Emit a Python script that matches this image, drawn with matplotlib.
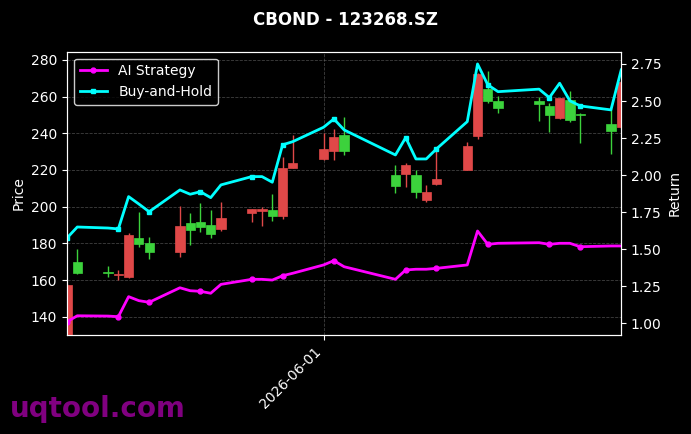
import numpy as np
import pandas as pd
import matplotlib
matplotlib.use("Agg")
import matplotlib.pyplot as plt
import matplotlib.dates as mdates

# trading days shown on the chart
dates = pd.to_datetime([
    "2026-05-07", "2026-05-08", "2026-05-11", "2026-05-12", "2026-05-13", "2026-05-14", "2026-05-15",
    "2026-05-18", "2026-05-19", "2026-05-20", "2026-05-21", "2026-05-22",
    "2026-05-25", "2026-05-26", "2026-05-27", "2026-05-28", "2026-05-29",
    "2026-06-01", "2026-06-02", "2026-06-03",
    "2026-06-08", "2026-06-09", "2026-06-10", "2026-06-11", "2026-06-12",
    "2026-06-15", "2026-06-16", "2026-06-17", "2026-06-18",
    "2026-06-22", "2026-06-23", "2026-06-24", "2026-06-25", "2026-06-26",
    "2026-06-29", "2026-06-30",
])

open_ = [126.0, 170.0, 164.5, 162.6, 161.8, 182.8, 180.0,
         175.5, 191.0, 191.8, 190.0, 187.8,
         196.4, 197.8, 198.2, 195.1, 220.9,
         226.0, 230.5, 239.1,
         217.3, 217.7, 217.3, 203.6, 212.4,
         220.0, 238.6, 264.0, 257.6,
         257.6, 254.9, 248.2, 258.2, 250.6,
         245.1, 243.4]
close = [157.3, 164.0, 163.6, 163.3, 184.6, 179.7, 175.5,
         189.5, 187.0, 188.8, 184.9, 193.7,
         198.6, 198.6, 195.1, 220.9, 223.7,
         231.5, 237.8, 230.5,
         211.5, 222.7, 208.2, 207.8, 215.1,
         233.1, 272.5, 257.8, 253.7,
         255.8, 250.0, 259.1, 247.3, 250.2,
         241.4, 268.0]
high = [158.0, 176.8, 167.6, 165.5, 185.5, 197.0, 183.3,
        200.4, 196.7, 202.2, 198.2, 202.4,
        198.8, 200.0, 206.9, 227.3, 239.1,
        240.4, 242.4, 249.1,
        222.7, 223.7, 220.0, 211.8, 231.8,
        235.4, 272.8, 274.2, 260.4,
        260.0, 256.7, 259.4, 263.1, 250.8,
        253.1, 268.3]
low = [125.0, 163.3, 161.8, 160.0, 161.3, 177.8, 171.3,
       172.7, 179.1, 186.4, 183.1, 186.7,
       191.5, 189.5, 192.4, 193.3, 220.9,
       225.5, 225.5, 228.2,
       207.6, 210.6, 204.9, 202.7, 212.0,
       220.0, 236.8, 256.4, 251.3,
       246.7, 240.9, 247.7, 246.4, 234.6,
       228.7, 243.0]

ai_strategy = [1.011, 1.051, 1.049, 1.045, 1.180, 1.153, 1.142,
               1.240, 1.220, 1.216, 1.203, 1.263,
               1.297, 1.297, 1.292, 1.321, 1.338,
               1.394, 1.423, 1.382,
               1.297, 1.360, 1.365, 1.365, 1.371,
               1.394, 1.623, 1.533, 1.540,
               1.544, 1.533, 1.540, 1.540, 1.517,
               1.522, 1.522]
buy_hold = [1.576, 1.650, 1.643, 1.637, 1.855, 1.805, 1.753,
            1.900, 1.871, 1.888, 1.848, 1.934,
            1.990, 1.990, 1.952, 2.204, 2.226,
            2.323, 2.379, 2.305,
            2.136, 2.253, 2.109, 2.109, 2.177,
            2.361, 2.750, 2.609, 2.563,
            2.580, 2.523, 2.620, 2.501, 2.467,
            2.440, 2.710]

plt.style.use("dark_background")
fig = plt.figure(figsize=(6.91, 4.34), dpi=100)
ax1 = fig.add_axes([0.097, 0.228, 0.802, 0.653])
ax2 = ax1.twinx()

x = mdates.date2num(dates)
o = np.array(open_)
c = np.array(close)
up = c >= o
col = np.where(up, "#e04848", "#3cd23c")

# candles
ax1.vlines(x, low, high, colors=col, linewidth=1, zorder=2)
ax1.bar(x, np.abs(c - o), bottom=np.minimum(o, c), width=0.9, color=col,
        edgecolor=col, linewidth=0.5, zorder=3)

# strategy lines
ax2.plot(x, ai_strategy, color="#ff00ff", linewidth=2, marker="o", markersize=3.5,
         markevery=3, label="AI Strategy")
ax2.plot(x, buy_hold, color="#00ffff", linewidth=2, marker="s", markersize=3.5,
         markevery=3, label="Buy-and-Hold")

ax1.set_xlim(x[0], x[-1])
ax1.set_ylim(130.0, 284.5)
ax2.set_ylim(0.921, 2.833)
ax1.set_ylabel("Price")
ax2.set_ylabel("Return")

ax1.xaxis.set_major_locator(mdates.MonthLocator())
ax1.xaxis.set_major_formatter(mdates.DateFormatter("%Y-%m-%d"))
plt.setp(ax1.get_xticklabels(), rotation=45, ha="right")

ax1.grid(True, linestyle="--", linewidth=0.6, color="gray", alpha=0.5)

leg = ax2.legend(loc="upper left", facecolor="black", edgecolor="white")

fig.suptitle("CBOND - 123268.SZ", fontsize=12, fontweight="bold", y=0.975)
fig.text(0.014, 0.04, "uqtool.com", fontsize=20, fontweight="bold", color="#800080")

fig.savefig("out.png", dpi=100, facecolor="black")
